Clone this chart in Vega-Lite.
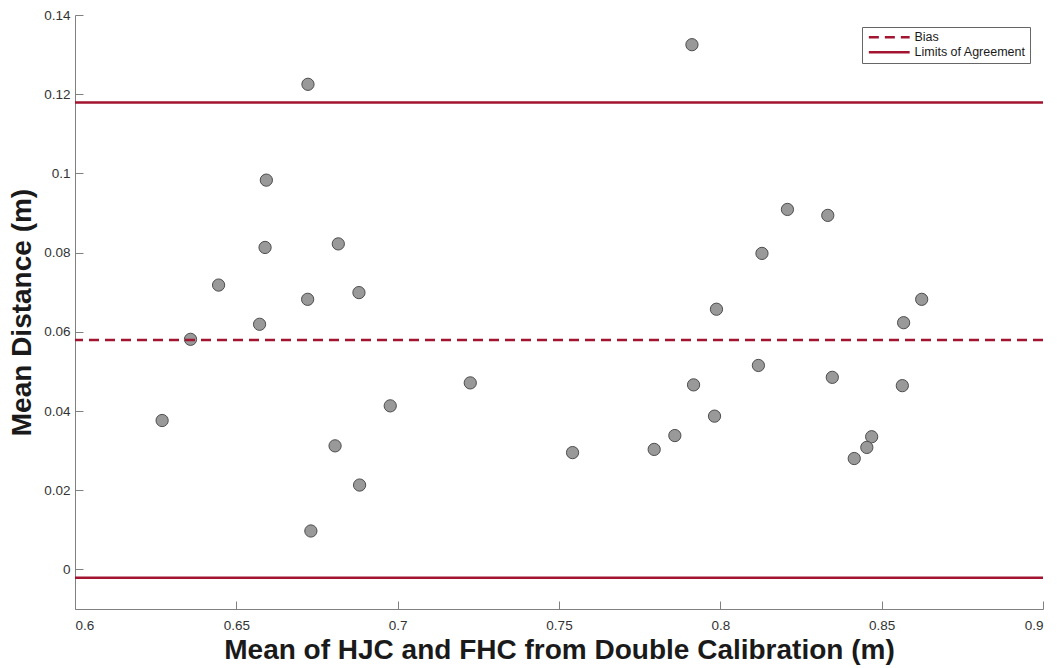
{
  "$schema": "https://vega.github.io/schema/vega-lite/v6.json",
  "width": 968,
  "height": 594,
  "autosize": {"type": "none"},
  "padding": {"left": 75, "top": 15, "right": 14, "bottom": 59},
  "background": "white",
  "config": {
    "view": {"stroke": null},
    "font": "Liberation Sans",
    "axis": {
      "grid": false,
      "domainColor": "#808080",
      "domainWidth": 1,
      "tickColor": "#808080",
      "tickSize": -8,
      "labelFont": "Liberation Sans",
      "labelFontSize": 13.5,
      "labelColor": "#333333",
      "titleFont": "Liberation Sans",
      "titleFontSize": 28,
      "titleFontWeight": "bold",
      "titleColor": "#1a1a1a"
    }
  },
  "layer": [
    {
      "data": {
        "values": [
          {"mean": 0.6722, "diff": 0.1225},
          {"mean": 0.6593, "diff": 0.0983},
          {"mean": 0.6589, "diff": 0.0813},
          {"mean": 0.6816, "diff": 0.0822},
          {"mean": 0.6445, "diff": 0.0718},
          {"mean": 0.6721, "diff": 0.0682},
          {"mean": 0.688, "diff": 0.0699},
          {"mean": 0.6572, "diff": 0.0619},
          {"mean": 0.6358, "diff": 0.0581},
          {"mean": 0.7225, "diff": 0.0471},
          {"mean": 0.6977, "diff": 0.0413},
          {"mean": 0.627, "diff": 0.0376},
          {"mean": 0.6806, "diff": 0.0312},
          {"mean": 0.6882, "diff": 0.0213},
          {"mean": 0.6731, "diff": 0.0097},
          {"mean": 0.8208, "diff": 0.0909},
          {"mean": 0.8333, "diff": 0.0894},
          {"mean": 0.8129, "diff": 0.0798},
          {"mean": 0.7988, "diff": 0.0657},
          {"mean": 0.8568, "diff": 0.0623},
          {"mean": 0.8118, "diff": 0.0515},
          {"mean": 0.8347, "diff": 0.0485},
          {"mean": 0.8564, "diff": 0.0464},
          {"mean": 0.7917, "diff": 0.0466},
          {"mean": 0.7982, "diff": 0.0387},
          {"mean": 0.7859, "diff": 0.0338},
          {"mean": 0.7795, "diff": 0.0303},
          {"mean": 0.7542, "diff": 0.0295},
          {"mean": 0.8469, "diff": 0.0335},
          {"mean": 0.8454, "diff": 0.0308},
          {"mean": 0.8415, "diff": 0.028},
          {"mean": 0.7912, "diff": 0.1325},
          {"mean": 0.8624, "diff": 0.0682}
        ]
      },
      "mark": {"type": "point", "shape": "circle", "filled": true, "fill": "#999999", "stroke": "#4d4d4d", "strokeWidth": 1, "size": 150, "opacity": 1},
      "encoding": {
        "x": {
          "field": "mean", "type": "quantitative",
          "scale": {"domain": [0.6, 0.9], "nice": false, "zero": false},
          "axis": {"title": "Mean of HJC and FHC from Double Calibration (m)", "values": [0.6, 0.65, 0.7, 0.75, 0.8, 0.85, 0.9], "format": "~g", "labelPadding": 17, "titlePadding": 5}
        },
        "y": {
          "field": "diff", "type": "quantitative",
          "scale": {"domain": [-0.01, 0.14], "nice": false, "zero": false},
          "axis": {"title": "Mean Distance (m)", "values": [0, 0.02, 0.04, 0.06, 0.08, 0.1, 0.12, 0.14], "format": "~g", "labelPadding": 13, "titlePadding": 7}
        }
      }
    },
    {
      "data": {
        "values": [
          {"type": "Bias", "value": 0.0579},
          {"type": "Limits of Agreement", "value": 0.1179},
          {"type": "Limits of Agreement", "value": -0.0021}
        ]
      },
      "mark": {"type": "rule", "color": "#A2142F", "strokeWidth": 2.5},
      "encoding": {
        "y": {"field": "value", "type": "quantitative"},
        "strokeDash": {
          "field": "type", "type": "nominal",
          "scale": {"domain": ["Bias", "Limits of Agreement"], "range": [[10, 6], [1, 0]]},
          "legend": {
            "title": null,
            "orient": "none",
            "legendX": 787,
            "legendY": 12,
            "symbolType": "M-7,0H7",
            "symbolSize": 34,
            "symbolOffset": 17,
            "symbolStrokeColor": "#A2142F",
            "symbolStrokeWidth": 2.5,
            "labelFontSize": 12.5,
            "labelColor": "#1a1a1a",
            "labelFont": "Liberation Sans",
            "strokeColor": "#666666",
            "fillColor": "white",
            "padding": 4,
            "rowPadding": 2,
            "labelOffset": 19
          }
        }
      }
    }
  ]
}
